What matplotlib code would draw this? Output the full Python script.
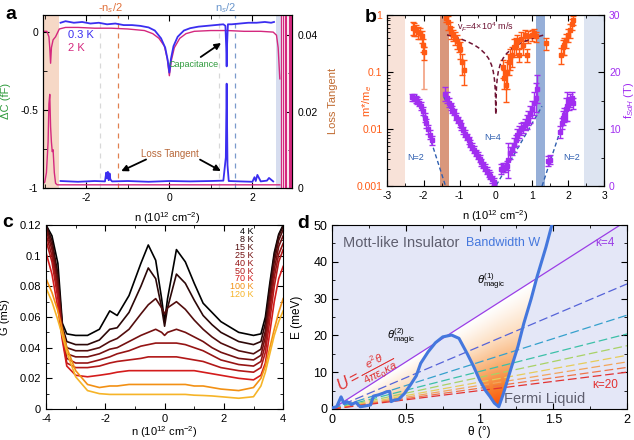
import numpy as np
import matplotlib
matplotlib.use('Agg')
import matplotlib.pyplot as plt
from matplotlib.ticker import FuncFormatter, MultipleLocator, FixedLocator, NullFormatter
from matplotlib.colors import LinearSegmentedColormap

plt.rcParams['font.family'] = ['Liberation Sans', 'DejaVu Sans']
plt.rcParams['mathtext.fontset'] = 'custom'
plt.rcParams['mathtext.rm'] = 'Liberation Sans'
plt.rcParams['mathtext.it'] = 'Liberation Sans:italic'
plt.rcParams['mathtext.bf'] = 'Liberation Sans:bold'
plt.rcParams['xtick.direction'] = 'in'
plt.rcParams['ytick.direction'] = 'in'
plt.rcParams['font.size'] = 8
plt.rcParams['axes.linewidth'] = 0.8

# ---------------- datos panel a ----------------
cap_n_03K = [-2.62, -2.5, -2.3, -2.1, -1.9, -1.7, -1.5, -1.3, -1.1, -0.9, -0.7, -0.5, -0.35, -0.2, -0.1,
             -0.04, 0.0, 0.04, 0.1, 0.2, 0.35, 0.5, 0.7, 0.9, 1.1, 1.3, 1.35, 1.37, 1.38, 1.39, 1.41,
             1.5, 1.7, 1.9, 2.1, 2.3, 2.45, 2.52]
cap_03K = [0.06, 0.07, 0.06, 0.065, 0.055, 0.06, 0.05, 0.055, 0.045, 0.045, 0.04, 0.03, 0.01, -0.04, -0.1,
           -0.18, -0.26, -0.17, -0.09, -0.03, 0.01, 0.025, 0.035, 0.04, 0.045, 0.05, 0.04, -0.1, -0.22, -0.08, 0.05,
           0.05, 0.055, 0.06, 0.06, 0.065, 0.06, 0.065]
cap_n_2K = [-3.04, -2.95, -2.9, -2.88, -2.86, -2.84, -2.8, -2.74, -2.65, -2.5, -2.2, -1.8, -1.4, -1.0, -0.6,
            -0.4, -0.25, -0.12, -0.05, 0.0, 0.05, 0.12, 0.25, 0.4, 0.6, 1.0, 1.4, 1.8, 2.2, 2.5, 2.58, 2.62, 2.66]
cap_2K = [0.005, 0.005, -0.03, -0.1, -0.2, -0.1, -0.05, -0.03, 0.02, 0.03, 0.03, 0.025, 0.025, 0.02, 0.01,
          -0.01, -0.04, -0.09, -0.17, -0.28, -0.18, -0.1, -0.04, -0.01, 0.005, 0.01, 0.01, 0.005, 0.005, 0.0,
          -0.02, -0.1, -0.3]
lt_n_03K = [-2.62, -2.2, -1.8, -1.55, -1.52, -1.5, -1.48, -1.46, -1.44, -1.42, -1.38, -1.0, -0.5, 0.0, 0.5,
            1.0, 1.3, 1.36, 1.38, 1.4, 1.43, 1.7, 2.0, 2.05, 2.08, 2.12, 2.2, 2.35, 2.4, 2.5]
lt_03K = [0.0018, 0.0016, 0.0018, 0.0017, 0.004, 0.0025, 0.0042, 0.002, 0.0038, 0.0022, 0.0017, 0.0018,
          0.0016, 0.0018, 0.0017, 0.0018, 0.0019, 0.008, 0.0273, 0.006, 0.0018, 0.0017, 0.0016, 0.0028,
          0.0018, 0.0034, 0.0017, 0.0019, 0.0026, 0.0017]
lt_n_2K = [-3.04, -3.0, -2.96, -2.92, -2.9, -2.88, -2.86, -2.84, -2.82, -2.8, -2.77, -2.74, -2.7, -2.5,
           -1.5, 0.0, 1.5, 2.6, 2.66]
lt_2K = [0.0012, 0.0015, 0.004, 0.012, 0.022, 0.0245, 0.016, 0.012, 0.0095, 0.010, 0.004, 0.0012, 0.0008,
         0.0008, 0.0008, 0.0008, 0.0008, 0.0008, 0.0008]
lt_spikes_2K = [2.69, 2.73, 2.78, 2.82, 2.87, 2.91, 2.94]
dash_n = [-1.66, -1.24, 1.19, 1.59]
dash_colors = ['#d8d8d8', '#e08050', '#d8d8d8', '#7a9acc']

# ---------------- datos panel b ----------------
mstar_n = [-2.3, -2.25, -2.2, -2.15, -2.1, -2.05, -2.02, -1.98,
           -1.38, -1.33, -1.28, -1.23, -1.18, -1.13, -1.08, -1.03, -0.98, -0.93, -0.88,
           0.2, 0.24, 0.28, 0.32, 0.36, 0.4, 0.45, 0.5, 0.55, 0.6, 0.65, 0.7, 0.75, 0.8, 0.85, 0.9, 1.0, 1.05, 1.1,
           1.38,
           1.8, 1.85, 1.9, 1.95, 2.0, 2.05, 2.1, 2.15]
mstar = [0.6, 0.58, 0.55, 0.5, 0.48, 0.42, 0.3, 0.22,
         0.9, 0.75, 0.6, 0.5, 0.45, 0.4, 0.35, 0.3, 0.25, 0.15, 0.11,
         0.12, 0.08, 0.06, 0.1, 0.15, 0.18, 0.2, 0.28, 0.3, 0.35, 0.2, 0.38, 0.3, 0.45, 0.2, 0.42, 0.45, 0.48, 0.42,
         0.32,
         0.2, 0.28, 0.3, 0.36, 0.45, 0.55, 0.7, 0.82]
mstar_err = [0.15, 0.15, 0.12, 0.12, 0.1, 0.1, 0.08, 0.06,
             0.15, 0.2, 0.15, 0.12, 0.1, 0.1, 0.1, 0.08, 0.08, 0.06, 0.05,
             0.04, 0.03, 0.03, 0.05, 0.06, 0.07, 0.08, 0.1, 0.1, 0.1, 0.05, 0.12, 0.1, 0.1, 0.05, 0.1, 0.1, 0.08, 0.08,
             0.08,
             0.06, 0.08, 0.1, 0.1, 0.12, 0.15, 0.15, 0.15]
mstar_long_n = [-1.98]
mstar_long = [0.22]
mstar_long_lo = [0.17]

fsdh_n = [-2.32, -2.27, -2.22, -2.17, -2.12, -2.07, -2.02, -1.97, -1.92, -1.87, -1.82, -1.77,
          -1.40, -1.35, -1.30, -1.25, -1.20, -1.15, -1.10, -1.05, -1.00, -0.95, -0.90, -0.85, -0.80, -0.75,
          -0.70, -0.65, -0.60, -0.55, -0.50, -0.45, -0.40, -0.35, -0.30, -0.25, -0.20, -0.15, -0.10, -0.05,
          0.15, 0.2, 0.25, 0.3, 0.35, 0.4, 0.45, 0.5, 0.55, 0.6, 0.65, 0.7, 0.75, 0.8, 0.85, 0.9, 0.95, 1.0,
          1.05, 1.1, 1.15,
          1.45, 1.5,
          1.78, 1.82, 1.86, 1.9, 1.94, 1.98, 2.02, 2.06, 2.1, 2.14]
fsdh = [15.6, 15.5, 15.2, 15.0, 14.6, 14.0, 13.2, 12.0, 11.0, 10.0, 9.0, 8.0,
        16.2, 15.5, 14.6, 14.0, 13.4, 13.0, 12.2, 11.6, 11.0, 10.5, 9.8, 9.2, 8.6, 8.0,
        7.4, 6.9, 6.4, 5.8, 5.3, 4.8, 4.2, 3.7, 3.2, 2.7, 2.2, 1.8, 1.2, 0.8,
        3.0, 3.3, 3.2, 3.6, 4.5, 5.8, 6.5, 7.2, 8.0, 9.0, 9.5, 10.0, 10.3, 10.8, 11.2, 12.0, 12.6, 13.5,
        14.5, 15.5, 17.0,
        4.4, 4.6,
        9.5, 11.0, 12.0, 12.5, 13.5, 14.0, 14.5, 15.0, 15.5, 14.5]
fsdh_err = [0.6, 0.6, 0.6, 0.6, 0.6, 0.7, 0.7, 0.8, 0.8, 0.8, 0.8, 0.8,
            1.2, 1.0, 0.8, 0.6, 0.6, 0.6, 0.6, 0.6, 0.6, 0.6, 0.6, 0.6, 0.6, 0.6,
            0.6, 0.6, 0.6, 0.6, 0.6, 0.6, 0.6, 0.6, 0.6, 0.6, 0.6, 0.6, 0.6, 0.6,
            0.8, 0.8, 0.8, 0.8, 3.0, 1.0, 1.0, 1.2, 1.0, 1.0, 1.0, 1.0, 1.0, 1.0, 1.2, 1.2, 1.5, 1.5,
            2.0, 2.5, 2.5,
            0.8, 0.8,
            1.0, 1.0, 1.2, 1.2, 2.0, 2.5, 1.2, 1.2, 1.0, 1.0]
# ajustes lineales N=2 / N=4 (extremos)
fit_N2_left_n, fit_N2_left_f = [-2.2, -1.39], [16.0, 0.0]
fit_N4_n, fit_N4_f = [-1.44, 0.0, 1.28], [15.6, 0.0, 14.0]
fit_N2_right_n, fit_N2_right_f = [1.28, 2.1], [0.0, 15.8]
# curva v_F = 4x10^4 m/s
vf_n = [-1.35, -1.2, -1.0, -0.8, -0.6, -0.45, -0.3, -0.2, -0.12, -0.07, -0.04, -0.02, -0.01, -0.005, -0.002,
        0.002, 0.005, 0.01, 0.02, 0.04, 0.07, 0.12, 0.2, 0.3, 0.45, 0.6, 0.8, 1.0, 1.2, 1.35]
vf_m = [0.448, 0.423, 0.386, 0.345, 0.299, 0.259, 0.211, 0.173, 0.134, 0.102, 0.077, 0.055, 0.039, 0.027, 0.018,
        0.018, 0.027, 0.039, 0.055, 0.077, 0.102, 0.134, 0.173, 0.211, 0.259, 0.299, 0.345, 0.386, 0.423, 0.448]

# ---------------- datos panel c ----------------
n_c = [-4.0, -3.8, -3.6, -3.45, -3.3, -3.0, -2.6, -2.2, -1.85, -1.6, -1.2, -0.8, -0.55, -0.3, -0.1, 0.0,
       0.1, 0.4, 0.7, 1.0, 1.3, 1.6, 1.9, 2.5, 3.0, 3.25, 3.4, 3.55, 3.7, 3.85, 4.0]
temps = ['4 K', '8 K', '15 K', '25 K', '40 K', '50 K', '70 K', '100 K', '120 K']
G_4K = [0.120, 0.113, 0.095, 0.056, 0.049, 0.048, 0.048, 0.052, 0.064, 0.061, 0.074, 0.095, 0.107, 0.097, 0.072, 0.057,
        0.072, 0.104, 0.096, 0.082, 0.069, 0.063, 0.057, 0.050, 0.048, 0.049, 0.060, 0.082, 0.102, 0.114, 0.120]
G_8K = [0.120, 0.110, 0.088, 0.054, 0.044, 0.042, 0.042, 0.045, 0.052, 0.053, 0.063, 0.080, 0.092, 0.085, 0.066, 0.054,
        0.066, 0.088, 0.082, 0.071, 0.061, 0.055, 0.050, 0.044, 0.042, 0.044, 0.056, 0.079, 0.100, 0.113, 0.119]
G_15K = [0.119, 0.107, 0.084, 0.052, 0.040, 0.038, 0.038, 0.040, 0.044, 0.046, 0.052, 0.062, 0.068, 0.072, 0.066, 0.062,
         0.066, 0.070, 0.065, 0.058, 0.052, 0.047, 0.043, 0.038, 0.036, 0.039, 0.051, 0.074, 0.096, 0.110, 0.117]
G_25K = [0.117, 0.104, 0.080, 0.050, 0.036, 0.034, 0.034, 0.036, 0.039, 0.040, 0.044, 0.048, 0.050, 0.052, 0.050, 0.048,
         0.050, 0.052, 0.050, 0.047, 0.044, 0.040, 0.037, 0.033, 0.032, 0.035, 0.047, 0.069, 0.091, 0.106, 0.113]
G_40K = [0.114, 0.100, 0.076, 0.049, 0.033, 0.030, 0.030, 0.032, 0.034, 0.036, 0.038, 0.041, 0.042, 0.043, 0.043, 0.043,
         0.043, 0.043, 0.042, 0.040, 0.038, 0.035, 0.032, 0.029, 0.028, 0.031, 0.042, 0.064, 0.086, 0.101, 0.108]
G_50K = [0.110, 0.096, 0.072, 0.047, 0.030, 0.027, 0.027, 0.028, 0.030, 0.031, 0.032, 0.033, 0.034, 0.034, 0.034, 0.034,
         0.034, 0.034, 0.033, 0.032, 0.031, 0.029, 0.027, 0.025, 0.024, 0.027, 0.037, 0.058, 0.080, 0.096, 0.104]
G_70K = [0.102, 0.088, 0.066, 0.045, 0.028, 0.022, 0.021, 0.022, 0.023, 0.024, 0.025, 0.025, 0.025, 0.025, 0.025, 0.025,
         0.025, 0.025, 0.025, 0.025, 0.024, 0.023, 0.022, 0.020, 0.019, 0.022, 0.030, 0.050, 0.070, 0.085, 0.093]
G_100K = [0.085, 0.076, 0.064, 0.052, 0.040, 0.025, 0.016, 0.014, 0.015, 0.015, 0.016, 0.016, 0.016, 0.016, 0.016, 0.016,
          0.016, 0.016, 0.016, 0.015, 0.015, 0.014, 0.013, 0.012, 0.014, 0.020, 0.028, 0.040, 0.052, 0.063, 0.072]
G_120K = [0.079, 0.070, 0.058, 0.048, 0.037, 0.021, 0.012, 0.010, 0.0095, 0.0095, 0.0095, 0.0095, 0.0095, 0.0095, 0.0095,
          0.0095, 0.0095, 0.0095, 0.0095, 0.009, 0.0088, 0.0085, 0.008, 0.007, 0.008, 0.015, 0.024, 0.036, 0.048, 0.057, 0.064]
G_all = [G_4K, G_8K, G_15K, G_25K, G_40K, G_50K, G_70K, G_100K, G_120K]
temp_colors = ['#000000', '#2c0808', '#520d0d', '#741010', '#951414', '#b21818', '#d41c1c', '#f29014', '#f6b428']

# ---------------- datos panel d ----------------
w_theta = [0.0, 0.03, 0.06, 0.08, 0.10, 0.13, 0.16, 0.19, 0.22, 0.26, 0.28, 0.31, 0.34, 0.37, 0.39, 0.40, 0.42,
           0.45, 0.49, 0.53, 0.57, 0.60, 0.65, 0.70, 0.75, 0.81, 0.86, 0.915, 0.96, 1.0, 1.04, 1.07, 1.10, 1.13,
           1.16, 1.21, 1.26, 1.30, 1.35, 1.39, 1.45, 1.49]
w_E = [0.3, 0.6, 3.3, 1.5, 2.0, 1.2, 1.8, 0.6, 0.8, 1.1, 3.5, 3.8, 4.2, 4.7, 4.8, 2.0, 2.4,
       2.6, 4.2, 6.5, 9.0, 12.4, 15.5, 18.0, 19.6, 20.1, 19.2, 15.1, 11.5, 7.9, 5.0, 3.4, 1.6, 0.6,
       4.0, 10.6, 17.0, 23.3, 30.0, 36.0, 44.0, 50.0]
kappa = [4, 6, 8, 10, 12, 14, 16, 18, 20]
u_at_2deg = [51.2, 34.0, 25.5, 20.4, 17.2, 14.6, 12.8, 11.3, 10.0]
kappa_colors = ['#9b3ee6', '#5563d8', '#35a0cc', '#3cc0a8', '#a8d266', '#e6cc5a', '#f3a45a', '#f07448', '#e23232']

# ---------------- figura ----------------
fig = plt.figure(figsize=(6.34, 4.4), dpi=100)
fmt = FuncFormatter(lambda v, p: '%g' % v)

# ======== panel a ========
blue_a = '#3b2ef0'
pink_a = '#d4287e'
ax_a = fig.add_axes([0.068, 0.573, 0.393, 0.393])
ax_a.axvspan(-3.04, -2.65, color='#f6d8c6', lw=0)
ax_a.axvspan(2.57, 2.68, color='#d6ddef', lw=0)
for x, c in zip(dash_n, dash_colors):
    ax_a.axvline(x, color=c, ls=(0, (4, 4)), lw=0.9)
ax_a.plot(cap_n_2K, cap_2K, color=pink_a, lw=1.0)
ax_a.plot(cap_n_03K, cap_03K, color=blue_a, lw=1.3)
ax_a.set_xlim(-3.04, 2.96)
ax_a.set_ylim(-1.0, 0.11)
ax_a.xaxis.set_major_locator(FixedLocator([-2, 0, 2]))
ax_a.xaxis.set_minor_locator(FixedLocator([-3, -1, 1]))
ax_a.yaxis.set_major_locator(FixedLocator([-1, -0.5, 0]))
ax_a.yaxis.set_minor_locator(FixedLocator([-0.75, -0.25]))
ax_a.xaxis.set_major_formatter(fmt)
ax_a.yaxis.set_major_formatter(fmt)
ax_a.tick_params(which='both', top=True, labelsize=7.5)
ax_a.tick_params(which='major', length=4)
ax_a.tick_params(which='minor', length=3)
ax_a.set_ylabel('ΔC (fF)', color='#2e9a3c', fontsize=8)
ax_a.yaxis.set_label_coords(-0.13, 0.5)
ax_a.set_xlabel('n (10$^{12}$ cm$^{-2}$)', fontsize=8)
ax_a.xaxis.set_label_coords(0.5, -0.13)

ax_a2 = ax_a.twinx()
ax_a2.plot(lt_n_2K, lt_2K, color=pink_a, lw=1.0)
ax_a2.plot(lt_n_03K, lt_03K, color=blue_a, lw=1.3)
ax_a2.vlines(lt_spikes_2K, 0, 0.0453, color=pink_a, lw=0.9)
ax_a2.set_ylim(0, 0.0453)
ax_a2.yaxis.set_major_locator(FixedLocator([0, 0.02, 0.04]))
ax_a2.yaxis.set_minor_locator(FixedLocator([0.01, 0.03]))
ax_a2.yaxis.set_major_formatter(fmt)
ax_a2.tick_params(which='both', labelsize=7.5)
ax_a2.tick_params(which='major', length=4)
ax_a2.tick_params(which='minor', length=3)
ax_a2.set_ylabel('Loss Tangent', color='#c06a30', fontsize=8)
ax_a2.yaxis.set_label_coords(1.145, 0.5)

ax_a.text(-2.45, -0.035, '0.3 K', color=blue_a, fontsize=8)
ax_a.text(-2.45, -0.12, '2 K', color=pink_a, fontsize=8)
ax_a.text(0.58, -0.205, 'Capacitance', color='#2e9a3c', fontsize=6.5, ha='center', va='center')
ax_a.annotate('', xy=(1.3, -0.06), xytext=(0.7, -0.17),
              arrowprops=dict(arrowstyle='-|>', color='k', lw=1.3, mutation_scale=9))
ax_a.text(0.02, -0.78, 'Loss Tangent', color='#b8683a', fontsize=7, ha='center', va='center')
ax_a.annotate('', xy=(-1.22, -0.9), xytext=(-0.5, -0.81),
              arrowprops=dict(arrowstyle='-|>', color='k', lw=1.3, mutation_scale=9))
ax_a.annotate('', xy=(1.3, -0.9), xytext=(0.68, -0.81),
              arrowprops=dict(arrowstyle='-|>', color='k', lw=1.3, mutation_scale=9))
trans_a = ax_a.get_xaxis_transform()
ax_a.text(-1.42, 1.02, '-n$_s$/2', color='#e0703a', fontsize=8, ha='center', va='baseline', transform=trans_a)
ax_a.text(1.35, 1.02, 'n$_s$/2', color='#6a96cc', fontsize=8, ha='center', va='baseline', transform=trans_a)

# ======== panel b ========
orange_b = '#ff5a14'
purple_b = '#a12ef0'
ax_b = fig.add_axes([0.611, 0.577, 0.342, 0.389])
ax_b.axvspan(-3.0, -2.52, color='#f8e2d8', lw=0)
ax_b.axvspan(-1.55, -1.3, color='#d9977c', lw=0)
ax_b.axvspan(1.12, 1.35, color='#96afd8', lw=0)
ax_b.axvspan(2.45, 3.0, color='#dde4f1', lw=0)
ax_b.errorbar(mstar_long_n, mstar_long, yerr=[mstar_long_lo, [0.05]], fmt='none',
              ecolor='#f2a080', elinewidth=1.2, capsize=2)
ax_b.errorbar(mstar_n, mstar, yerr=mstar_err, fmt='s', ms=2.5, color=orange_b,
              ecolor=orange_b, elinewidth=1.0, capsize=2)
ax_b.plot(vf_n, vf_m, color='#6e1434', ls=(0, (3, 2)), lw=1.1)
ax_b.set_yscale('log')
ax_b.set_xlim(-3, 3)
ax_b.set_ylim(0.001, 1)
ax_b.xaxis.set_major_locator(MultipleLocator(1))
ax_b.xaxis.set_minor_locator(MultipleLocator(0.5))
ax_b.xaxis.set_major_formatter(fmt)
ax_b.yaxis.set_major_formatter(FuncFormatter(lambda v, p: '%g' % v))
ax_b.yaxis.set_minor_formatter(NullFormatter())
ax_b.tick_params(which='both', top=True, labelsize=7.5)
ax_b.tick_params(axis='y', labelcolor=orange_b)
ax_b.tick_params(which='major', length=4)
ax_b.tick_params(which='minor', length=2.5)
ax_b.set_ylabel('m*/m$_e$', color=orange_b, fontsize=8)
ax_b.yaxis.set_label_coords(-0.06, 0.5)
ax_b.set_xlabel('n (10$^{12}$ cm$^{-2}$)', fontsize=8)
ax_b.xaxis.set_label_coords(0.5, -0.13)
ax_b.text(-1.07, 0.6, 'v$_F$=4×10$^4$ m/s', color='#6e1434', fontsize=6.5, va='center')

ax_b2 = ax_b.twinx()
ax_b2.plot(fit_N2_left_n, fit_N2_left_f, color='#2f5fb0', ls=(0, (3, 2)), lw=1.0)
ax_b2.plot(fit_N4_n, fit_N4_f, color='#2f5fb0', ls=(0, (3, 2)), lw=1.0)
ax_b2.plot(fit_N2_right_n, fit_N2_right_f, color='#2f5fb0', ls=(0, (3, 2)), lw=1.0)
ax_b2.errorbar(fsdh_n, fsdh, yerr=fsdh_err, fmt='s', ms=2.5, color=purple_b,
               ecolor=purple_b, elinewidth=1.0, capsize=2)
ax_b2.set_ylim(0, 30)
ax_b2.yaxis.set_major_locator(MultipleLocator(10))
ax_b2.yaxis.set_minor_locator(MultipleLocator(5))
ax_b2.tick_params(which='both', labelsize=7.5, labelcolor=purple_b)
ax_b2.tick_params(which='major', length=4)
ax_b2.tick_params(which='minor', length=2.5)
ax_b2.set_ylabel('f$_{SdH}$ (T)', color=purple_b, fontsize=8)
ax_b2.yaxis.set_label_coords(1.08, 0.5)
ax_b2.text(-2.23, 4.5, 'N=2', color='#2f5fb0', fontsize=6.5, ha='center')
ax_b2.text(-0.09, 8.0, 'N=4', color='#2f5fb0', fontsize=6.5, ha='center')
ax_b2.text(2.09, 4.5, 'N=2', color='#2f5fb0', fontsize=6.5, ha='center')

# ======== panel c ========
ax_c = fig.add_axes([0.0726, 0.0705, 0.374, 0.418])
for G, c in zip(G_all, temp_colors):
    ax_c.plot(n_c, G, color=c, lw=1.2)
for i, (lab, c) in enumerate(zip(temps, temp_colors)):
    ax_c.text(3.0, 0.1155 - i * 0.0051, lab, color=c, fontsize=6.5, ha='right', va='center')
ax_c.set_xlim(-4, 4)
ax_c.set_ylim(0, 0.12)
ax_c.xaxis.set_major_locator(MultipleLocator(2))
ax_c.xaxis.set_minor_locator(MultipleLocator(1))
ax_c.yaxis.set_major_locator(MultipleLocator(0.02))
ax_c.yaxis.set_minor_locator(MultipleLocator(0.01))
ax_c.xaxis.set_major_formatter(fmt)
ax_c.yaxis.set_major_formatter(fmt)
ax_c.tick_params(which='both', top=True, right=True, labelsize=8)
ax_c.tick_params(which='major', length=4)
ax_c.tick_params(which='minor', length=2.5)
ax_c.set_ylabel('G (mS)', fontsize=8)
ax_c.yaxis.set_label_coords(-0.15, 0.5)
ax_c.set_xlabel('n (10$^{12}$ cm$^{-2}$)', fontsize=8)
ax_c.xaxis.set_label_coords(0.5, -0.085)

# ======== panel d ========
ax_d = fig.add_axes([0.524, 0.0705, 0.465, 0.418])
ax_d.set_facecolor('#e4e7f7')
# relleno naranja entre W y la recta kappa=4
th = np.linspace(0, 2, 500)
ee = np.linspace(0, 50, 400)
TH, EE = np.meshgrid(th, ee)
W_grid = np.interp(TH, w_theta, w_E)
U4 = TH * u_at_2deg[0] / 2.0
inside = (EE > W_grid) & (EE < U4)
t = np.clip((1 - EE / np.maximum(U4, 1e-9)) * np.minimum(TH / 1.12, 1.0) ** 0.5, 0, 1)
cmap_or = LinearSegmentedColormap.from_list('or', ['#ffffff', '#fde0c4', '#f9b47a', '#f7802c', '#ff4a00'])
rgba = cmap_or(t ** 1.2)
rgba[..., 3] = np.where(inside, 1.0, 0.0)
ax_d.imshow(rgba, origin='lower', extent=(0, 2, 0, 50), aspect='auto', zorder=1, interpolation='bilinear')
for k, u2, c in zip(kappa, u_at_2deg, kappa_colors):
    ls = '-' if k == 4 else (0, (7, 3))
    ax_d.plot([0, 2], [0, u2], color=c, lw=0.9, ls=ls, zorder=2)
ax_d.plot(w_theta, w_E, color='#4477dd', lw=2.2, zorder=3)
ax_d.set_xlim(0, 2)
ax_d.set_ylim(0, 50)
ax_d.xaxis.set_major_locator(MultipleLocator(0.5))
ax_d.xaxis.set_minor_locator(MultipleLocator(0.25))
ax_d.yaxis.set_major_locator(MultipleLocator(10))
ax_d.yaxis.set_minor_locator(MultipleLocator(5))
ax_d.xaxis.set_major_formatter(fmt)
ax_d.yaxis.set_major_formatter(fmt)
ax_d.tick_params(which='both', top=True, right=True, labelsize=9)
ax_d.tick_params(which='major', length=4)
ax_d.tick_params(which='minor', length=2.5)
ax_d.set_ylabel('E (meV)', fontsize=8.5)
ax_d.yaxis.set_label_coords(-0.1, 0.5)
ax_d.set_xlabel('θ (°)', fontsize=8.5)
ax_d.xaxis.set_label_coords(0.5, -0.09)
ax_d.text(0.07, 45, 'Mott-like Insulator', color='#5e5e6e', fontsize=10.5, va='center', zorder=4)
ax_d.text(1.16, 45, 'Bandwidth W', color='#4477dd', fontsize=9, ha='center', va='center', zorder=4)
ax_d.text(1.85, 45, 'κ=4', color='#9b3ee6', fontsize=8.5, ha='center', va='center', zorder=4)
ax_d.text(1.85, 6.5, 'κ=20', color='#e23232', fontsize=8.5, ha='center', va='center', zorder=4)
ax_d.text(1.44, 2.6, 'Fermi Liquid', color='#5e5e6e', fontsize=10.5, ha='center', va='center', zorder=4)
ax_d.text(1.08, 34.6, r'$\theta^{(1)}_{\rm magic}$', fontsize=8, ha='center', va='center', zorder=4)
ax_d.text(0.47, 19.7, r'$\theta^{(2)}_{\rm magic}$', fontsize=8, ha='center', va='center', zorder=4)
ax_d.text(0.23, 9.8, r'$U=\frac{e^2\theta}{4\pi\varepsilon_0\kappa a}$', color='#e03030', fontsize=11.5,
          ha='center', va='center', rotation=28, zorder=4)

# letras de panel
fig.text(0.008, 0.957, 'a', fontsize=14, fontweight='bold')
fig.text(0.576, 0.95, 'b', fontsize=14, fontweight='bold')
fig.text(0.004, 0.485, 'c', fontsize=14, fontweight='bold')
fig.text(0.469, 0.482, 'd', fontsize=14, fontweight='bold')

fig.savefig('out.png', dpi=100)
